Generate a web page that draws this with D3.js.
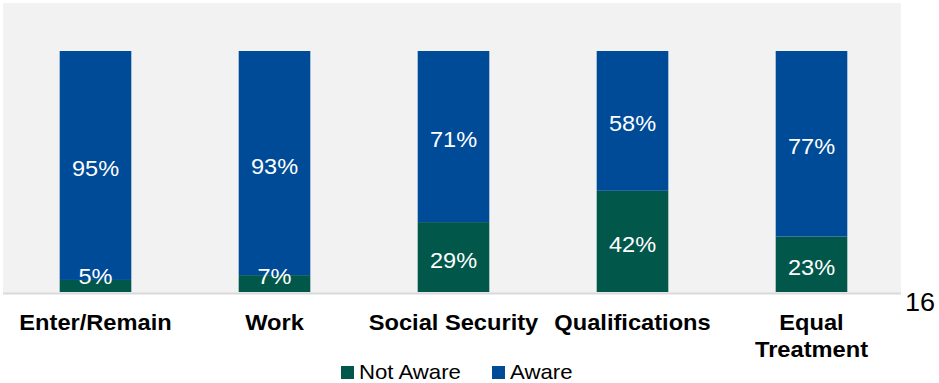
<!DOCTYPE html>
<html>
<head>
<meta charset="utf-8">
<script src="https://cdn.jsdelivr.net/npm/d3@7"></script>
<style>
  html, body { margin: 0; padding: 0; background: #ffffff; }
  svg { display: block; }
  text { font-family: "Liberation Sans", Arial, sans-serif; }
</style>
</head>
<body>
<svg id="chart" width="939" height="383"></svg>
<script>
// Awareness of rights, share of respondents per area (percent)
const categories = ["Enter/Remain", "Work", "Social Security", "Qualifications", "Equal Treatment"];
const categoryLines = [["Enter/Remain"], ["Work"], ["Social Security"], ["Qualifications"], ["Equal", "Treatment"]];
const notAware = [5, 7, 29, 42, 23];
const aware = [95, 93, 71, 58, 77];
const seriesNames = ["Not Aware", "Aware"];
const seriesColors = ["#01584a", "#004b97"];
const pageNumber = "16";

const svg = d3.select("#chart");

const panel = { left: 3, top: 3, right: 901, bottom: 293 };

// plot background
svg.append("rect")
  .attr("x", panel.left).attr("y", panel.top)
  .attr("width", panel.right - panel.left)
  .attr("height", panel.bottom - panel.top)
  .attr("fill", "#f2f2f2");

const x = d3.scaleBand()
  .domain(categories)
  .range([6, 901])
  .paddingInner(0.6)
  .paddingOuter(0.3);

const y = d3.scaleLinear()
  .domain([0, 100])
  .range([292, 51]);

// stack Not Aware at the bottom, Aware on top
const rows = categories.map((c, i) => ({ category: c, "Not Aware": notAware[i], "Aware": aware[i] }));
const stacked = d3.stack().keys(seriesNames)(rows);

const layers = svg.append("g").selectAll("g")
  .data(stacked)
  .join("g")
  .attr("fill", (d, i) => seriesColors[i]);

layers.selectAll("rect")
  .data(d => d)
  .join("rect")
  .attr("x", d => x(d.data.category))
  .attr("width", x.bandwidth())
  .attr("y", d => y(d[1]))
  .attr("height", d => y(d[0]) - y(d[1]));

// value labels, centred in each segment but kept inside the plot
const labels = svg.append("g");
stacked.forEach(layer => {
  layer.forEach(d => {
    const val = d[1] - d[0];
    const mid = (y(d[0]) + y(d[1])) / 2;
    const base = Math.min(mid + 10.5, 284);
    const cx = x(d.data.category) + x.bandwidth() / 2;
    labels.append("text")
      .attr("transform", `translate(${cx},${base}) scale(1.07,1)`)
      .attr("text-anchor", "middle")
      .attr("fill", "#ffffff")
      .attr("font-size", "22px")
      .text(val + "%");
  });
});

// baseline
const xAxis = d3.axisBottom(x).tickSize(0).tickFormat("");
svg.append("g")
  .attr("transform", `translate(0,${panel.bottom})`)
  .call(xAxis)
  .call(g => g.select(".domain")
    .attr("d", `M${panel.left},0.5H${panel.right}`)
    .attr("stroke", "#d9d9d9")
    .attr("stroke-width", 2));

// category labels
const catG = svg.append("g");
categories.forEach((c, i) => {
  const cx = x(c) + x.bandwidth() / 2;
  categoryLines[i].forEach((line, j) => {
    catG.append("text")
      .attr("transform", `translate(${cx},${330 + j * 27}) scale(1.1,1)`)
      .attr("text-anchor", "middle")
      .attr("font-weight", "bold")
      .attr("font-size", "21.5px")
      .attr("fill", "#000000")
      .text(line);
  });
});

// legend
const legendItems = [
  { name: seriesNames[0], color: seriesColors[0], x: 341 },
  { name: seriesNames[1], color: seriesColors[1], x: 492 }
];
const legend = svg.append("g");
legendItems.forEach(item => {
  legend.append("rect")
    .attr("x", item.x).attr("y", 366)
    .attr("width", 13).attr("height", 13)
    .attr("fill", item.color);
  legend.append("text")
    .attr("transform", `translate(${item.x + 18},379) scale(1.11,1)`)
    .attr("font-size", "20px")
    .attr("fill", "#000000")
    .text(item.name);
});

// page number
svg.append("text")
  .attr("transform", "translate(905,311) scale(1.08,1)")
  .attr("font-size", "25px")
  .attr("fill", "#000000")
  .text(pageNumber);
</script>
</body>
</html>
